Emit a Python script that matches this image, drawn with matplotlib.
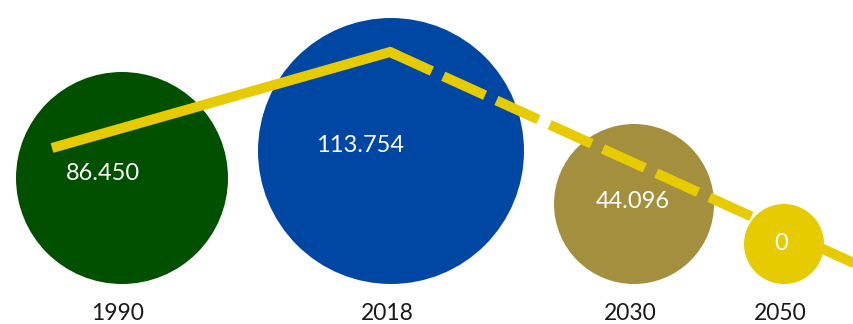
import numpy as np
import matplotlib
matplotlib.use('Agg')
import matplotlib.pyplot as plt
from matplotlib.patches import Circle

plt.rcParams['font.family'] = ['Lato', 'DejaVu Sans']

# data
years = ['1990', '2018', '2030', '2050']
values = [86.450, 113.754, 44.096, 0]
value_labels = ['86.450', '113.754', '44.096', '0']
colors = ['#005000', '#0047a3', '#a38f3e', '#e6cb00']

# trend line (drawing units, y up), solid part then dashed projection
trend_solid_x = [52, 390]
trend_solid_y = [176, 272]
trend_dash_x = [390, 880]
trend_dash_y = [272, 49]

# bubble layout (pixels)
bubble_r = [106, 133, 80, 40]
gap = 30
left = 16
base = 40
label_dx = [-19, -31, -1, -3]
label_dy = [5, 6, 3, 1]

fig = plt.figure(figsize=(8.54, 3.24), dpi=100, facecolor='white')
ax = fig.add_axes([0, 0, 1, 1])
ax.set_xlim(0, 854)
ax.set_ylim(0, 324)
ax.axis('off')

cx = []
for i, r in enumerate(bubble_r):
    if i == 0:
        cx.append(left + r)
    else:
        cx.append(cx[-1] + bubble_r[i - 1] + gap + r)

for i in range(len(years)):
    r = bubble_r[i]
    cy = base + r
    ax.add_patch(Circle((cx[i], cy), r, facecolor=colors[i], edgecolor='none', zorder=1))
    ax.text(cx[i] - 4, 10, years[i], ha='center', va='center', fontsize=16.5, color='#1a1a1a')

lw = 7.2
dx = trend_dash_x[1] - trend_dash_x[0]
dy = trend_dash_y[1] - trend_dash_y[0]
n = np.hypot(dx, dy)
ext_x = trend_solid_x + [trend_solid_x[-1] + dx / n * 8]
ext_y = trend_solid_y + [trend_solid_y[-1] + dy / n * 8]
ax.plot(ext_x, ext_y, color='#e6cb00', lw=lw, solid_capstyle='butt',
        solid_joinstyle='miter', zorder=2)
ax.plot(trend_dash_x, trend_dash_y, color='#e6cb00', lw=lw, dashes=(4.6, 1.25),
        dash_capstyle='butt', zorder=2)

for i in range(len(years)):
    r = bubble_r[i]
    cy = base + r
    ax.text(cx[i] + label_dx[i], cy + label_dy[i], value_labels[i], ha='center', va='center',
            fontsize=17, color='white', zorder=3)

fig.savefig('out.png', dpi=100, facecolor='white')
